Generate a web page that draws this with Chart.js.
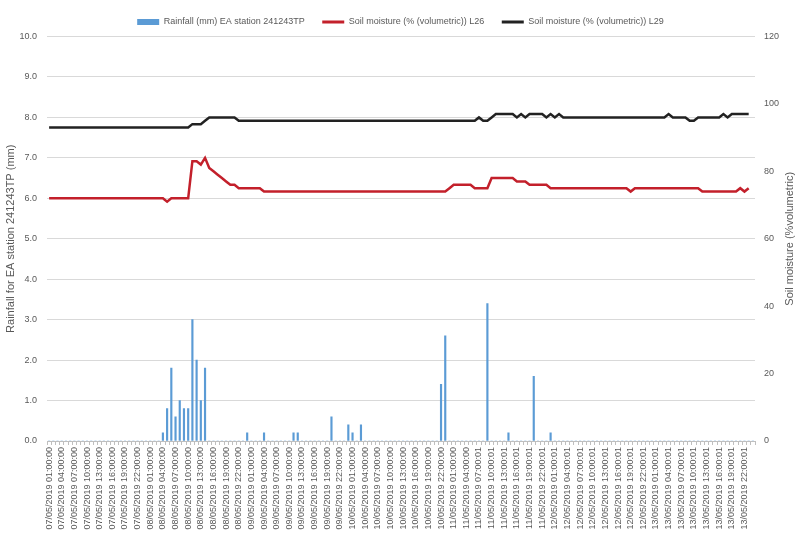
<!DOCTYPE html>
<html>
<head>
<meta charset="utf-8">
<script src="https://cdn.jsdelivr.net/npm/chart.js@4.4.0/dist/chart.umd.min.js"></script>
<style>
    html, body { margin: 0; padding: 0; background: #fff; }
</style>
</head>
<body>
<canvas id="chart" width="801" height="546"></canvas>
<script>
// Libellés affichés (un toutes les 3 heures)
const tickLabels = [
    '07/05/2019 01:00:00', '07/05/2019 04:00:00', '07/05/2019 07:00:00', '07/05/2019 10:00:00',
    '07/05/2019 13:00:00', '07/05/2019 16:00:00', '07/05/2019 19:00:00', '07/05/2019 22:00:00',
    '08/05/2019 01:00:00', '08/05/2019 04:00:00', '08/05/2019 07:00:00', '08/05/2019 10:00:00',
    '08/05/2019 13:00:00', '08/05/2019 16:00:00', '08/05/2019 19:00:00', '08/05/2019 22:00:00',
    '09/05/2019 01:00:00', '09/05/2019 04:00:00', '09/05/2019 07:00:00', '09/05/2019 10:00:00',
    '09/05/2019 13:00:00', '09/05/2019 16:00:00', '09/05/2019 19:00:00', '09/05/2019 22:00:00',
    '10/05/2019 01:00:00', '10/05/2019 04:00:00', '10/05/2019 07:00:00', '10/05/2019 10:00:00',
    '10/05/2019 13:00:00', '10/05/2019 16:00:00', '10/05/2019 19:00:00', '10/05/2019 22:00:00',
    '11/05/2019 01:00:00', '11/05/2019 04:00:00', '11/05/2019 07:00:01', '11/05/2019 10:00:01',
    '11/05/2019 13:00:01', '11/05/2019 16:00:01', '11/05/2019 19:00:01', '11/05/2019 22:00:01',
    '12/05/2019 01:00:01', '12/05/2019 04:00:01', '12/05/2019 07:00:01', '12/05/2019 10:00:01',
    '12/05/2019 13:00:01', '12/05/2019 16:00:01', '12/05/2019 19:00:01', '12/05/2019 22:00:01',
    '13/05/2019 01:00:01', '13/05/2019 04:00:01', '13/05/2019 07:00:01', '13/05/2019 10:00:01',
    '13/05/2019 13:00:01', '13/05/2019 16:00:01', '13/05/2019 19:00:01', '13/05/2019 22:00:01'
];

// Pluie horaire (mm), une ligne par jour
const rainfall = [
    0, 0, 0, 0, 0, 0, 0, 0, 0, 0, 0, 0, 0, 0, 0, 0, 0, 0, 0, 0, 0, 0, 0, 0,
    0, 0, 0, 0.2, 0.8, 1.8, 0.6, 1.0, 0.8, 0.8, 3.0, 2.0, 1.0, 1.8, 0, 0, 0, 0, 0, 0, 0, 0, 0, 0.2,
    0, 0, 0, 0.2, 0, 0, 0, 0, 0, 0, 0.2, 0.2, 0, 0, 0, 0, 0, 0, 0, 0.6, 0, 0, 0, 0.4,
    0.2, 0, 0.4, 0, 0, 0, 0, 0, 0, 0, 0, 0, 0, 0, 0, 0, 0, 0, 0, 0, 0, 1.4, 2.6, 0,
    0, 0, 0, 0, 0, 0, 0, 0, 3.4, 0, 0, 0, 0, 0.2, 0, 0, 0, 0, 0, 1.6, 0, 0, 0, 0.2,
    0, 0, 0, 0, 0, 0, 0, 0, 0, 0, 0, 0, 0, 0, 0, 0, 0, 0, 0, 0, 0, 0, 0, 0,
    0, 0, 0, 0, 0, 0, 0, 0, 0, 0, 0, 0, 0, 0, 0, 0, 0, 0, 0, 0, 0, 0, 0, 0
];

// Humidité du sol L26 (%)
const moistureL26 = [
    72, 72, 72, 72, 72, 72, 72, 72, 72, 72, 72, 72, 72, 72, 72, 72, 72, 72, 72, 72, 72, 72, 72, 72,
    72, 72, 72, 72, 71, 72, 72, 72, 72, 72, 83, 83, 82, 84, 81, 80, 79, 78, 77, 76, 76, 75, 75, 75,
    75, 75, 75, 74, 74, 74, 74, 74, 74, 74, 74, 74, 74, 74, 74, 74, 74, 74, 74, 74, 74, 74, 74, 74,
    74, 74, 74, 74, 74, 74, 74, 74, 74, 74, 74, 74, 74, 74, 74, 74, 74, 74, 74, 74, 74, 74, 74, 75,
    76, 76, 76, 76, 76, 75, 75, 75, 75, 78, 78, 78, 78, 78, 78, 77, 77, 77, 76, 76, 76, 76, 76, 75,
    75, 75, 75, 75, 75, 75, 75, 75, 75, 75, 75, 75, 75, 75, 75, 75, 75, 75, 74, 75, 75, 75, 75, 75,
    75, 75, 75, 75, 75, 75, 75, 75, 75, 75, 75, 74, 74, 74, 74, 74, 74, 74, 74, 74, 75, 74, 75, null
];

// Humidité du sol L29 (%)
const moistureL29 = [
    93, 93, 93, 93, 93, 93, 93, 93, 93, 93, 93, 93, 93, 93, 93, 93, 93, 93, 93, 93, 93, 93, 93, 93,
    93, 93, 93, 93, 93, 93, 93, 93, 93, 93, 94, 94, 94, 95, 96, 96, 96, 96, 96, 96, 96, 95, 95, 95,
    95, 95, 95, 95, 95, 95, 95, 95, 95, 95, 95, 95, 95, 95, 95, 95, 95, 95, 95, 95, 95, 95, 95, 95,
    95, 95, 95, 95, 95, 95, 95, 95, 95, 95, 95, 95, 95, 95, 95, 95, 95, 95, 95, 95, 95, 95, 95, 95,
    95, 95, 95, 95, 95, 95, 96, 95, 95, 96, 97, 97, 97, 97, 97, 96, 97, 96, 97, 97, 97, 97, 96, 97,
    96, 97, 96, 96, 96, 96, 96, 96, 96, 96, 96, 96, 96, 96, 96, 96, 96, 96, 96, 96, 96, 96, 96, 96,
    96, 96, 96, 97, 96, 96, 96, 96, 95, 95, 96, 96, 96, 96, 96, 96, 97, 96, 97, 97, 97, 97, 97, null
];

// Une catégorie par heure, libellé toutes les 3 heures
const hours = tickLabels.flatMap(label => [label, '', '']);

const TEXT_COLOR = '#595959';
const FONT = '"Liberation Sans", Arial, sans-serif';

Chart.defaults.font.family = FONT;
Chart.defaults.font.size = 9;
Chart.defaults.color = TEXT_COLOR;

// Titre de l'axe de droite, lu de bas en haut comme dans Excel
const rightTitle = {
    id: 'rightTitle',
    afterDraw(chart) {
        const { ctx, chartArea } = chart;
        const x = chart.scales.y2.right - 11;
        ctx.save();
        ctx.translate(x, (chartArea.top + chartArea.bottom) / 2);
        ctx.rotate(-Math.PI / 2);
        ctx.font = '11px ' + FONT;
        ctx.fillStyle = TEXT_COLOR;
        ctx.textAlign = 'center';
        ctx.textBaseline = 'middle';
        ctx.fillText('Soil moisture (%volumetric)', 0, 0);
        ctx.restore();
    }
};

new Chart(document.getElementById('chart'), {
    data: {
        labels: hours,
        datasets: [
            {
                type: 'bar',
                label: 'Rainfall (mm) EA station 241243TP',
                data: rainfall,
                backgroundColor: '#5B9BD5',
                borderWidth: 0,
                barThickness: 1.5,
                yAxisID: 'y',
                order: 3
            },
            {
                type: 'line',
                label: 'Soil moisture (% (volumetric)) L26',
                data: moistureL26,
                borderColor: '#C3202B',
                backgroundColor: '#C3202B',
                borderWidth: 2.5,
                pointRadius: 0,
                tension: 0,
                yAxisID: 'y2',
                order: 1
            },
            {
                type: 'line',
                label: 'Soil moisture (% (volumetric)) L29',
                data: moistureL29,
                borderColor: '#222222',
                backgroundColor: '#222222',
                borderWidth: 2.5,
                pointRadius: 0,
                tension: 0,
                yAxisID: 'y2',
                order: 2
            }
        ]
    },
    options: {
        responsive: false,
        animation: false,
        layout: { padding: 0 },
        plugins: {
            tooltip: { enabled: false },
            legend: {
                position: 'top',
                maxHeight: 44,
                labels: {
                    usePointStyle: true,
                    pointStyleWidth: 22,
                    boxHeight: 6,
                    padding: 17.5,
                    font: { size: 9 },
                    color: TEXT_COLOR,
                    generateLabels: chart => chart.data.datasets.map((ds, i) => ({
                        text: ds.label,
                        datasetIndex: i,
                        fillStyle: ds.backgroundColor,
                        strokeStyle: ds.type === 'line' ? ds.borderColor : ds.backgroundColor,
                        lineWidth: ds.type === 'line' ? 3 : 0,
                        pointStyle: ds.type === 'line' ? 'line' : 'rect',
                        fontColor: TEXT_COLOR,
                        hidden: false
                    }))
                }
            }
        },
        scales: {
            x: {
                offset: true,
                grid: {
                    display: true,
                    offset: true,
                    drawOnChartArea: false,
                    drawTicks: true,
                    tickLength: 4,
                    color: '#BFBFBF'
                },
                border: { display: true, color: '#BFBFBF' },
                ticks: {
                    autoSkip: false,
                    minRotation: 90,
                    maxRotation: 90,
                    padding: 2,
                    callback: function (value) {
                        return this.getLabelForValue(value);
                    }
                },
                afterFit: scale => { scale.height = 105; }
            },
            y: {
                position: 'left',
                min: 0,
                max: 10,
                ticks: {
                    stepSize: 1,
                    padding: 10,
                    callback: v => v.toFixed(1)
                },
                grid: { color: '#D9D9D9', drawTicks: false },
                border: { display: false },
                title: {
                    display: true,
                    text: 'Rainfall for EA station 241243TP (mm)',
                    font: { size: 11 },
                    color: TEXT_COLOR,
                    padding: { top: 4, bottom: 0 }
                },
                afterFit: scale => { scale.width = 47; }
            },
            y2: {
                position: 'right',
                min: 0,
                max: 120,
                ticks: { stepSize: 20, padding: 9 },
                grid: { display: false, drawTicks: false },
                border: { display: false },
                afterFit: scale => { scale.width = 46; }
            }
        }
    },
    plugins: [rightTitle]
});
</script>
</body>
</html>
